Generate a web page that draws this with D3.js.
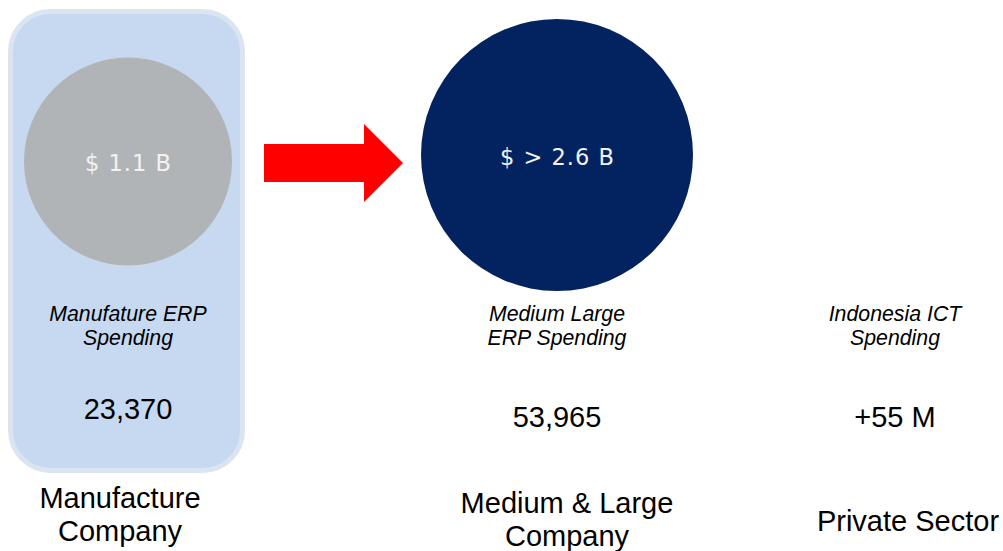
<!DOCTYPE html>
<html>
<head>
<meta charset="utf-8">
<script src="https://cdn.jsdelivr.net/npm/d3@7"></script>
<style>
  html, body { margin: 0; padding: 0; background: #fff; }
  svg { display: block; }
</style>
</head>
<body>
<svg class="canvas" width="1003" height="551"></svg>
<script>
// segments shown left to right
var segments = ["Manufacture", "Medium & Large", "Private Sector"]
var segmentLabels = [["Manufacture", "Company"], ["Medium & Large", "Company"], ["Private Sector"]]
var spendLabels = [["Manufature ERP", "Spending"], ["Medium Large", "ERP Spending"], ["Indonesia ICT", "Spending"]]
var companyCounts = ["23,370", "53,965", "+55 M"]

// ERP spending bubbles (billion USD)
var bubbleSegments = ["Manufacture", "Medium & Large"]
var bubbleValues = [1.1, 2.6]
var bubbleLabels = ["$ 1.1 B", "$ > 2.6 B"]

var svg = d3.select('.canvas')

var x = d3.scaleOrdinal()
    .domain(segments)
    .range([128, 557, 895])

var xBottom = d3.scaleOrdinal()
    .domain(segments)
    .range([120, 567, 908])

var r = d3.scaleLinear()
    .domain([1.1, 2.6])
    .range([104, 136])

var cy = d3.scaleOrdinal()
    .domain(bubbleSegments)
    .range([161.5, 155])

var bubbleColor = d3.scaleOrdinal()
    .domain(bubbleSegments)
    .range(["#b1b4b7", "#032260"])

// highlight panel behind the first segment
svg.append("rect")
    .attr("x", 10.5)
    .attr("y", 11.5)
    .attr("width", 232)
    .attr("height", 459)
    .attr("rx", 40)
    .attr("fill", "#c6d9f0")
    .attr("stroke", "#dbe5f2")
    .attr("stroke-width", 5)

var bubbles = bubbleSegments.map(function(s, i) {
    return { seg: s, value: bubbleValues[i], label: bubbleLabels[i] }
})

// arrow between the two bubbles
var a0 = x(bubbleSegments[0]) + r(bubbleValues[0]) + 32
var a1 = x(bubbleSegments[1]) - r(bubbleValues[1]) - 18
var ay = 163
var headW = 39
var pts = [
    [a0, ay - 19], [a1 - headW, ay - 19], [a1 - headW, ay - 39], [a1, ay],
    [a1 - headW, ay + 39], [a1 - headW, ay + 19], [a0, ay + 19]
]
svg.append("path")
    .attr("d", d3.line()(pts) + "Z")
    .attr("fill", "#ff0000")

svg.selectAll("circle.bubble")
    .data(bubbles)
    .enter().append("circle")
      .attr("class", "bubble")
      .attr("cx", function(d) { return x(d.seg) })
      .attr("cy", function(d) { return cy(d.seg) })
      .attr("r", function(d) { return r(d.value) })
      .attr("fill", function(d) { return bubbleColor(d.seg) })

svg.selectAll("text.bubble-label")
    .data(bubbles)
    .enter().append("text")
      .attr("class", "bubble-label")
      .attr("x", function(d) { return x(d.seg) + 0.5 })
      .attr("y", function(d) { return cy(d.seg) + 9.5 })
      .attr("text-anchor", "middle")
      .style("font-family", "'DejaVu Sans', Verdana, sans-serif")
      .style("font-size", "22.5px")
      .style("letter-spacing", "1px")
      .attr("fill", "#f2f2f2")
      .text(function(d) { return d.label })

// italic spending captions
var spend = svg.selectAll("text.spend")
    .data(segments)
    .enter().append("text")
      .attr("class", "spend")
      .attr("text-anchor", "middle")
      .style("font-family", "'Liberation Sans', Arial, sans-serif")
      .style("font-style", "italic")
      .style("font-size", "21.3px")
      .attr("fill", "#000")

spend.selectAll("tspan")
    .data(function(d, i) { return spendLabels[i].map(function(t) { return { seg: d, t: t } }) })
    .enter().append("tspan")
      .attr("x", function(d) { return x(d.seg) })
      .attr("y", function(d, j) { return 321 + j * 24 })
      .text(function(d) { return d.t })

// company counts
var countY = [419, 427, 427]
svg.selectAll("text.count")
    .data(segments)
    .enter().append("text")
      .attr("class", "count")
      .attr("x", function(d) { return x(d) })
      .attr("y", function(d, i) { return countY[i] })
      .attr("text-anchor", "middle")
      .style("font-family", "'Liberation Sans', Arial, sans-serif")
      .style("font-size", "29px")
      .attr("fill", "#000")
      .text(function(d, i) { return companyCounts[i] })

// segment names at the bottom
var bottomY = [508, 513, 531]
var seg = svg.selectAll("text.segment")
    .data(segments)
    .enter().append("text")
      .attr("class", "segment")
      .attr("text-anchor", "middle")
      .style("font-family", "'Liberation Sans', Arial, sans-serif")
      .style("font-size", "29px")
      .attr("fill", "#000")

seg.selectAll("tspan")
    .data(function(d, i) { return segmentLabels[i].map(function(t) { return { seg: d, t: t, i: i } }) })
    .enter().append("tspan")
      .attr("x", function(d) { return xBottom(d.seg) })
      .attr("y", function(d, j) { return bottomY[d.i] + j * 33 })
      .text(function(d) { return d.t })
</script>
</body>
</html>
